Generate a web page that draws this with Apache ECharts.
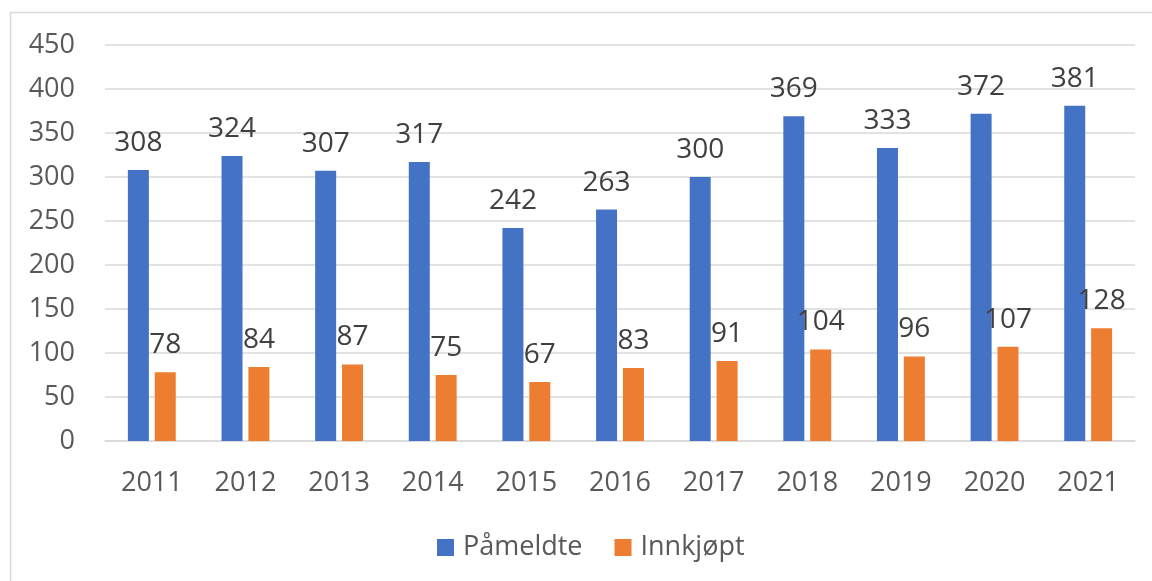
<!DOCTYPE html>
<html>
<head>
<meta charset="utf-8">
<script src="https://cdn.jsdelivr.net/npm/echarts@6/dist/echarts.min.js"></script>
<style>
  html, body { margin: 0; padding: 0; background: #fff; }
  #chart { width: 1152px; height: 581px; }
</style>
</head>
<body>
<div id="chart"></div>
<script>
// år og verdier
const years = ['2011', '2012', '2013', '2014', '2015', '2016', '2017', '2018', '2019', '2020', '2021']
const pameldte = [308, 324, 307, 317, 242, 263, 300, 369, 333, 372, 381]
const innkjopt = [78, 84, 87, 75, 67, 83, 91, 104, 96, 107, 128]

const font = 'Open Sans'
const textColor = '#404040'

const chart = echarts.init(document.getElementById('chart'))

const label = {
  show: true,
  position: 'top',
  distance: 13,
  fontFamily: font,
  fontSize: 28,
  color: textColor,
}

chart.setOption({
  animation: false,
  graphic: [
    {
      type: 'rect',
      shape: { x: 10.5, y: 12.5, width: 1160, height: 600 },
      style: { fill: 'none', stroke: '#d9d9d9', lineWidth: 1.5 },
      silent: true,
    },
  ],
  grid: {
    left: 105,
    right: 17,
    top: 45,
    bottom: 140,
  },
  legend: {
    bottom: 15,
    left: 432,
    itemWidth: 17,
    itemHeight: 17,
    itemGap: 32,
    icon: 'rect',
    textStyle: { fontFamily: font, fontSize: 27, color: '#595959', padding: [0, 0, 0, 4] },
    data: ['Påmeldte', 'Innkjøpt'],
  },
  xAxis: {
    type: 'category',
    data: years,
    axisLine: { lineStyle: { color: '#d9d9d9', width: 1.5 } },
    axisTick: { show: false },
    axisLabel: { fontFamily: font, fontSize: 27, color: '#595959', margin: 29 },
  },
  yAxis: {
    type: 'value',
    min: 0,
    max: 450,
    interval: 50,
    axisLabel: { fontFamily: font, fontSize: 27, color: '#595959', margin: 30 },
    splitLine: { lineStyle: { color: '#d9d9d9', width: 1.5 } },
  },
  series: [
    {
      name: 'Påmeldte',
      type: 'bar',
      data: pameldte,
      barWidth: 21,
      barGap: '28%',
      itemStyle: { color: '#4472c4' },
      label: label,
    },
    {
      name: 'Innkjøpt',
      type: 'bar',
      data: innkjopt,
      barWidth: 21,
      itemStyle: { color: '#ed7d31' },
      label: label,
    },
  ],
})
</script>
</body>
</html>
